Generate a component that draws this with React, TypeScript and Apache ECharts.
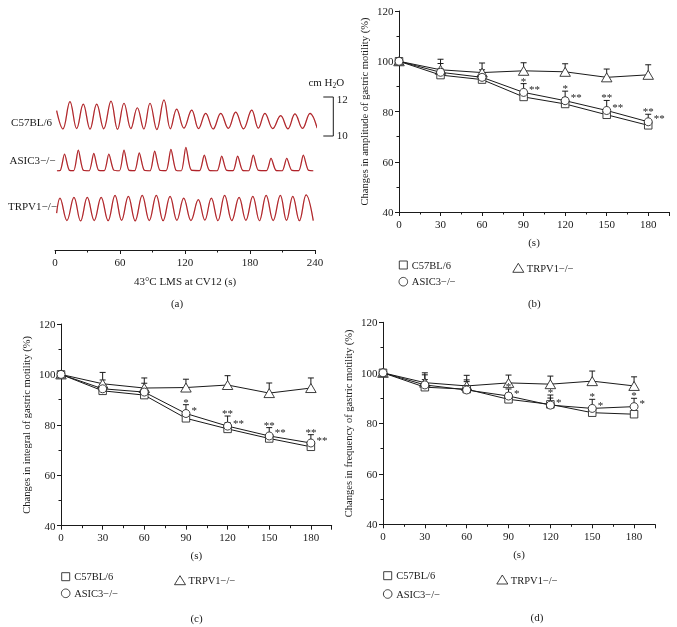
import React, { useEffect, useRef } from 'react';
import * as echarts from 'echarts';

const FONT = '"Liberation Serif", "Times New Roman", serif';
const INK = '#1a1a1a';
const MARK = '#2a2a2a';
const TRACE_RED = '#b02329';

// ---------------- data ----------------
const TIME_POINTS = [0, 30, 60, 90, 120, 150, 180];
const GENOTYPES = ['C57BL/6', 'ASIC3\u2212/\u2212', 'TRPV1\u2212/\u2212'];

// (b) amplitude
const AMP_C57 = [100, 94.5, 92.7, 85.8, 83.0, 78.7, 74.5];
const AMP_ASIC3 = [100, 95.6, 93.6, 87.6, 84.3, 80.4, 75.9];
const AMP_TRPV1 = [100, 96.6, 95.5, 96.2, 95.8, 93.6, 94.6];
const AMP_C57_ERR = [0, 2.5, 2.5, 2.5, 2.5, 2.5, 2.0];
const AMP_ASIC3_ERR = [0, 3.5, 3.0, 3.5, 3.8, 4.0, 3.0];
const AMP_TRPV1_ERR = [0, 4.2, 3.8, 3.2, 3.2, 3.3, 4.0];
const AMP_STARS_ABOVE = ['', '', '', '*', '*', '**', '**'];
const AMP_STARS_RIGHT = ['', '', '', '**', '**', '**', '**'];

// (c) integral
const INT_C57 = [100, 93.5, 91.8, 82.6, 78.4, 74.6, 71.3];
const INT_ASIC3 = [100, 94.3, 93.0, 84.5, 79.5, 75.6, 72.8];
const INT_TRPV1 = [100, 96.3, 94.6, 94.8, 95.8, 92.6, 94.6];
const INT_C57_ERR = [0, 2.5, 2.5, 2.5, 2.5, 2.0, 2.0];
const INT_ASIC3_ERR = [0, 3.5, 3.5, 3.5, 4.0, 3.3, 3.3];
const INT_TRPV1_ERR = [0, 4.5, 4.0, 3.3, 3.7, 4.0, 4.0];
const INT_STARS_ABOVE = ['', '', '', '*', '**', '**', '**'];
const INT_STARS_RIGHT = ['', '', '', '*', '**', '**', '**'];

// (d) frequency
const FREQ_C57 = [100, 94.3, 93.5, 89.5, 87.5, 84.2, 83.6];
const FREQ_ASIC3 = [100, 95.2, 93.2, 90.8, 87.2, 85.9, 86.6];
const FREQ_TRPV1 = [100, 96.1, 94.8, 96.0, 95.5, 96.7, 94.8];
const FREQ_C57_ERR = [0, 3.0, 3.0, 2.5, 2.5, 2.5, 2.5];
const FREQ_ASIC3_ERR = [0, 4.0, 4.0, 2.8, 4.0, 3.6, 3.3];
const FREQ_TRPV1_ERR = [0, 3.9, 4.2, 3.1, 3.2, 4.0, 3.6];
const FREQ_STARS_ABOVE = ['', '', '', '*', '*', '*', '*'];
const FREQ_STARS_RIGHT = ['', '', '', '*', '*', '*', '*'];

// (a) pressure traces [time (s), pressure (cm H2O)]
const C57_TRACE: [number, number][] = [
  [1.5, 11.30], [7.3, 10.36], [13.8, 11.76], [20.0, 10.38], [26.1, 11.63], [32.3, 10.35],
  [38.5, 11.63], [45.0, 10.37], [51.7, 11.79], [57.7, 10.34], [63.7, 11.68], [70.0, 10.38],
  [76.0, 11.45], [82.0, 10.36], [87.7, 11.68], [94.0, 10.33], [100.6, 11.85], [106.5, 10.37],
  [112.3, 11.38], [119.0, 10.40], [126.2, 11.33], [132.5, 10.38], [139.1, 11.16], [146.0, 10.36],
  [153.0, 11.16], [160.0, 10.39], [166.8, 11.22], [174.0, 10.37], [181.6, 11.33], [187.7, 10.40],
  [193.8, 11.16], [201.0, 10.38], [208.3, 11.04], [215.0, 10.37], [221.5, 11.13], [228.5, 10.39],
  [235.4, 11.16], [242.0, 10.40],
];
const ASIC3_TRACE: [number, number][] = [
  [1.8, 10.30], [4.8, 10.31], [8.8, 11.16], [13.2, 10.33], [17.3, 10.31], [21.5, 11.36],
  [26.2, 10.32], [31.5, 10.30], [35.8, 11.19], [40.3, 10.32], [45.5, 10.31], [49.7, 11.16],
  [54.3, 10.33], [59.5, 10.30], [63.7, 11.36], [68.4, 10.32], [73.6, 10.31], [77.8, 11.22],
  [82.5, 10.32], [87.8, 10.30], [92.0, 11.31], [96.8, 10.33], [102.6, 10.31], [107.0, 11.40],
  [111.8, 10.32], [116.6, 10.30], [120.8, 11.50], [125.8, 10.33], [133.4, 10.31], [137.8, 11.10],
  [142.5, 10.32], [149.6, 10.30], [153.9, 11.05], [158.5, 10.32], [164.4, 10.31], [168.6, 11.05],
  [173.2, 10.32], [178.8, 10.30], [183.0, 11.10], [187.8, 10.32], [195.2, 10.31], [199.4, 10.94],
  [204.0, 10.32], [209.7, 10.30], [213.9, 10.94], [218.6, 10.32], [225.0, 10.31], [229.2, 11.10],
  [234.0, 10.32], [238.4, 10.30],
];
const TRPV1_TRACE: [number, number][] = [
  [1.5, 10.68], [4.6, 11.45], [11.0, 10.30], [17.5, 11.49], [23.6, 10.28], [29.8, 11.49],
  [36.2, 10.30], [42.6, 11.49], [49.0, 10.29], [55.4, 11.59], [61.5, 10.31], [67.7, 11.54],
  [74.0, 10.28], [80.5, 11.59], [87.0, 10.30], [93.5, 11.59], [99.8, 10.29], [106.2, 11.54],
  [112.5, 10.31], [118.8, 11.45], [125.5, 10.30], [132.3, 11.37], [138.3, 10.32], [144.3, 11.45],
  [150.4, 10.29], [156.6, 11.59], [163.2, 10.30], [169.9, 11.49], [176.2, 10.31], [182.6, 11.54],
  [188.7, 10.29], [194.9, 11.59], [201.4, 10.30], [208.0, 11.59], [213.7, 10.31], [219.5, 11.54],
  [225.6, 10.29], [231.8, 11.62], [238.4, 10.30],
];
const TRACE_TICKS = [0, 60, 120, 180, 240];
const SCALE_BAR = [10, 12]; // cm H2O
const SCALE_UNIT = '{a|cm H}{s|2}{a|O}';

// ---------------- layout ----------------
const TRACE_GRIDS = [
  { left: 55, top: 97, width: 260, height: 39 },
  { left: 55, top: 137.6, width: 260, height: 39 },
  { left: 55, top: 187.4, width: 260, height: 39 },
];
const TRACE_AXIS_GRID = { left: 55, top: 230, width: 260, height: 20 };
const PANEL_GRIDS = [
  { left: 399, top: 11, width: 270, height: 201 },
  { left: 61, top: 324, width: 270.7, height: 201.7 },
  { left: 383, top: 322.3, width: 272, height: 202 },
];

const PANELS = [
  {
    yName: 'Changes in amplitude of gastric motility (%)',
    c57: AMP_C57, asic: AMP_ASIC3, trpv: AMP_TRPV1,
    c57Err: AMP_C57_ERR, asicErr: AMP_ASIC3_ERR, trpvErr: AMP_TRPV1_ERR,
    above: AMP_STARS_ABOVE, right: AMP_STARS_RIGHT,
  },
  {
    yName: 'Changes in integral of gastric motility (%)',
    c57: INT_C57, asic: INT_ASIC3, trpv: INT_TRPV1,
    c57Err: INT_C57_ERR, asicErr: INT_ASIC3_ERR, trpvErr: INT_TRPV1_ERR,
    above: INT_STARS_ABOVE, right: INT_STARS_RIGHT,
  },
  {
    yName: 'Changes in frequency of gastric motility (%)',
    c57: FREQ_C57, asic: FREQ_ASIC3, trpv: FREQ_TRPV1,
    c57Err: FREQ_C57_ERR, asicErr: FREQ_ASIC3_ERR, trpvErr: FREQ_TRPV1_ERR,
    above: FREQ_STARS_ABOVE, right: FREQ_STARS_RIGHT,
  },
];

const LEGEND_POS = [
  { sq: [403.3, 265], tri: [518.3, 268.3], ci: [403.3, 281.7] },
  { sq: [65.7, 576.7], tri: [180, 580.7], ci: [65.7, 593.3] },
  { sq: [387.7, 575.7], tri: [502.3, 580], ci: [387.7, 594] },
];

const txt = (text: string, x: number, y: number, size = 11, align = 'center', extra: any = {}) => ({
  type: 'text',
  x,
  y,
  silent: true,
  style: { text, fontFamily: FONT, fontSize: size, fill: INK, align, verticalAlign: 'middle', ...extra },
});

function legendGraphics(pos: any) {
  const [sx, sy] = pos.sq;
  const [tx, ty] = pos.tri;
  const [cx, cy] = pos.ci;
  const box = { fill: '#fff', stroke: MARK, lineWidth: 0.9 };
  return [
    { type: 'rect', shape: { x: sx - 4, y: sy - 4, width: 8, height: 8 }, style: box, silent: true },
    txt(GENOTYPES[0], sx + 8.5, sy, 10.5, 'left'),
    { type: 'polygon', shape: { points: [[tx, ty - 5], [tx + 5.5, ty + 4], [tx - 5.5, ty + 4]] }, style: box, silent: true },
    txt(GENOTYPES[2], tx + 8.5, ty, 10.5, 'left'),
    { type: 'circle', shape: { cx, cy, r: 4.3 }, style: box, silent: true },
    txt(GENOTYPES[1], cx + 8.5, cy, 10.5, 'left'),
  ];
}

function errorSeries(idx: number, vals: number[], errs: number[]) {
  return {
    type: 'custom',
    xAxisIndex: idx,
    yAxisIndex: idx,
    z: 1,
    silent: true,
    itemStyle: { color: INK },
    data: TIME_POINTS.map((t, k) => [t, vals[k], vals[k] + errs[k]]),
    encode: { x: 0, y: [1, 2] },
    renderItem: (_p: any, api: any) => {
      const base = api.coord([api.value(0), api.value(1)]);
      const top = api.coord([api.value(0), api.value(2)]);
      if (api.value(2) - api.value(1) <= 0) return { type: 'group', children: [] };
      const st = { stroke: INK, lineWidth: 1, fill: null };
      return {
        type: 'group',
        children: [
          { type: 'line', shape: { x1: base[0], y1: base[1], x2: top[0], y2: top[1] }, style: st },
          { type: 'line', shape: { x1: top[0] - 3, y1: top[1], x2: top[0] + 3, y2: top[1] }, style: st },
        ],
      };
    },
  };
}

function starSeries(idx: number, vals: number[], errs: number[], above: string[], right: string[]) {
  return {
    type: 'custom',
    xAxisIndex: idx,
    yAxisIndex: idx,
    z: 5,
    silent: true,
    itemStyle: { color: INK },
    data: TIME_POINTS.map((t, k) => [t, vals[k], vals[k] + errs[k]]),
    encode: { x: 0, y: [1, 2] },
    renderItem: (params: any, api: any) => {
      const k = params.dataIndex;
      const p = api.coord([api.value(0), api.value(1)]);
      const top = api.coord([api.value(0), api.value(2)]);
      const children: any[] = [];
      const st = { fontFamily: FONT, fontSize: 11, fill: '#222222', verticalAlign: 'middle' };
      if (above[k]) children.push({ type: 'text', x: top[0], y: top[1] - 3, style: { ...st, text: above[k], align: 'center' } });
      if (right[k]) children.push({ type: 'text', x: p[0] + 5.5, y: p[1] - 3.5, style: { ...st, text: right[k], align: 'left' } });
      return { type: 'group', children };
    },
  };
}

function scaleBarSeries() {
  return {
    type: 'custom',
    xAxisIndex: 0,
    yAxisIndex: 0,
    z: 5,
    silent: true,
    clip: false,
    itemStyle: { color: INK },
    data: [[240, SCALE_BAR[0], SCALE_BAR[1]]],
    encode: { x: 0, y: [1, 2] },
    renderItem: (_p: any, api: any) => {
      const lo = api.coord([api.value(0), api.value(1)]);
      const hi = api.coord([api.value(0), api.value(2)]);
      const x = lo[0] + 18.3;
      const st = { fontFamily: FONT, fontSize: 11, fill: INK, verticalAlign: 'middle', align: 'left' };
      return {
        type: 'group',
        children: [
          {
            type: 'polyline',
            shape: { points: [[x - 10, hi[1]], [x, hi[1]], [x, lo[1]], [x - 10, lo[1]]] },
            style: { stroke: INK, lineWidth: 1, fill: null },
          },
          { type: 'text', x: x + 3.5, y: hi[1] + 1.5, style: { ...st, text: String(SCALE_BAR[1]) } },
          { type: 'text', x: x + 3.5, y: lo[1] - 1.5, style: { ...st, text: String(SCALE_BAR[0]) } },
          {
            type: 'text',
            x: x - 7,
            y: hi[1] - 15,
            style: {
              text: SCALE_UNIT,
              align: 'center',
              verticalAlign: 'middle',
              rich: {
                a: { fontFamily: FONT, fontSize: 11, fill: INK },
                s: { fontFamily: FONT, fontSize: 7.5, fill: INK, padding: [6, 0, 0, 0] },
              },
            },
          },
        ],
      };
    },
  };
}

function buildOption() {
  const grid: any[] = [];
  const xAxis: any[] = [];
  const yAxis: any[] = [];
  const series: any[] = [];
  const graphic: any[] = [];

  const axisLineStyle = { color: INK, width: 1 };
  const labelStyle = { fontFamily: FONT, fontSize: 11, color: INK };

  // ---- panel (a): traces ----
  const traces = [C57_TRACE, ASIC3_TRACE, TRPV1_TRACE];
  TRACE_GRIDS.forEach((g, i) => {
    grid.push({ ...g, outerBoundsMode: 'none', containLabel: false });
    xAxis.push({ gridIndex: i, type: 'value', min: 0, max: 240, show: false });
    yAxis.push({ gridIndex: i, type: 'value', min: 10, max: 12, show: false });
    series.push({
      type: 'line',
      name: GENOTYPES[i] + ' trace',
      xAxisIndex: i,
      yAxisIndex: i,
      data: traces[i],
      showSymbol: false,
      smooth: i === 1 ? 0.25 : 0.4,
      silent: true,
      lineStyle: { color: TRACE_RED, width: 1.2, shadowColor: 'rgba(225,130,130,0.7)', shadowBlur: 1.5 },
    });
  });
  series.push(scaleBarSeries());

  grid.push({ ...TRACE_AXIS_GRID, outerBoundsMode: 'none', containLabel: false });
  xAxis.push({
    gridIndex: 3, type: 'value', min: 0, max: 240, interval: 60,
    axisLine: { show: true, onZero: false, lineStyle: axisLineStyle },
    axisTick: { show: true, length: 4, lineStyle: axisLineStyle },
    minorTick: { show: true, splitNumber: 2, length: 2.5, lineStyle: axisLineStyle },
    splitLine: { show: false },
    axisLabel: { ...labelStyle, margin: 6, formatter: (v: number) => (TRACE_TICKS.includes(v) ? String(v) : '') },
    name: '43\u00B0C LMS at CV12 (s)',
    nameLocation: 'middle',
    nameGap: 25,
    nameMoveOverlap: false,
    nameTextStyle: { fontFamily: FONT, fontSize: 11, color: INK },
  });
  yAxis.push({ gridIndex: 3, type: 'value', min: 0, max: 1, show: false });

  graphic.push(txt(GENOTYPES[0], 52, 122, 11, 'right'));
  graphic.push(txt(GENOTYPES[1], 55.5, 160, 11, 'right'));
  graphic.push(txt(GENOTYPES[2], 57, 205.5, 11, 'right'));
  graphic.push(txt('(a)', 177, 303.3, 11));

  // ---- panels (b)(c)(d) ----
  const letters = ['(b)', '(c)', '(d)'];
  const letterPos = [[534.3, 303.3], [196.5, 618], [537, 617]];
  PANELS.forEach((p, j) => {
    const idx = 4 + j;
    const g = PANEL_GRIDS[j];
    grid.push({ ...g, outerBoundsMode: 'none', containLabel: false });
    xAxis.push({
      gridIndex: idx, type: 'value', min: 0, max: 195, interval: 30,
      axisLine: { show: true, onZero: false, lineStyle: axisLineStyle },
      axisTick: { show: true, length: 4, lineStyle: axisLineStyle },
      minorTick: { show: true, splitNumber: 2, length: 2.5, lineStyle: axisLineStyle },
      splitLine: { show: false },
      axisLabel: { ...labelStyle, margin: 6, formatter: (v: number) => (TIME_POINTS.includes(v) ? String(v) : '') },
      name: '(s)',
      nameLocation: 'middle',
      nameGap: 24,
      nameMoveOverlap: false,
      nameTextStyle: { fontFamily: FONT, fontSize: 11, color: INK },
    });
    yAxis.push({
      gridIndex: idx, type: 'value', min: 40, max: 120, interval: 20,
      axisLine: { show: true, onZero: false, lineStyle: axisLineStyle },
      axisTick: { show: true, length: 4, lineStyle: axisLineStyle },
      minorTick: { show: true, splitNumber: 2, length: 2.5, lineStyle: axisLineStyle },
      splitLine: { show: false },
      axisLabel: { ...labelStyle, margin: 5.5 },
      name: p.yName,
      nameLocation: 'middle',
      nameGap: 29,
      nameRotate: 90,
      nameMoveOverlap: false,
      nameTextStyle: { fontFamily: FONT, fontSize: 10.5, color: INK },
    });

    series.push(errorSeries(idx, p.c57, p.c57Err));
    series.push(errorSeries(idx, p.trpv, p.trpvErr));
    series.push(errorSeries(idx, p.asic, p.asicErr));

    const lineBase = (name: string, vals: number[], symbol: string, size: any, z: number) => ({
      type: 'line',
      name,
      xAxisIndex: idx,
      yAxisIndex: idx,
      data: TIME_POINTS.map((t, k) => [t, vals[k]]),
      symbol,
      symbolSize: size,
      showSymbol: true,
      silent: true,
      z,
      lineStyle: { color: INK, width: 1 },
      itemStyle: { color: '#ffffff', borderColor: MARK, borderWidth: 0.9 },
    });
    series.push(lineBase(GENOTYPES[2], p.trpv, 'triangle', [10.5, 9], 2));
    series.push(lineBase(GENOTYPES[0], p.c57, 'rect', 7.5, 3));
    series.push(lineBase(GENOTYPES[1], p.asic, 'circle', 8, 4));
    series.push(starSeries(idx, p.asic, p.asicErr, p.above, p.right));

    graphic.push(...legendGraphics(LEGEND_POS[j]));
    graphic.push(txt(letters[j], letterPos[j][0], letterPos[j][1], 11));
  });

  return {
    animation: false,
    backgroundColor: '#ffffff',
    textStyle: { fontFamily: FONT },
    grid,
    xAxis,
    yAxis,
    series,
    graphic: { elements: graphic },
    tooltip: { show: false },
  };
}

export default function App() {
  const ref = useRef<HTMLDivElement>(null);
  useEffect(() => {
    if (!ref.current) return;
    const chart = echarts.init(ref.current, undefined, { renderer: 'svg' });
    chart.setOption(buildOption() as any);
    return () => chart.dispose();
  }, []);
  return (
    <div
      ref={ref}
      style={{
        position: 'absolute', left: 0, top: 0, width: 677, height: 627,
        background: '#fff', opacity: 0.999,
      }}
    />
  );
}
